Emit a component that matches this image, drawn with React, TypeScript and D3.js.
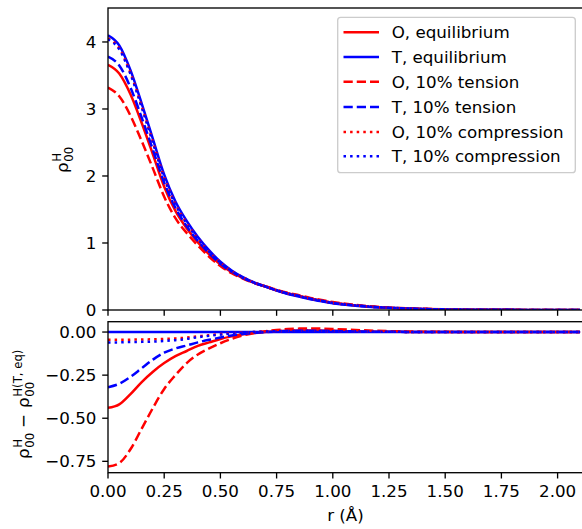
import React from "react";
import * as d3 from "d3";

const R = [0, 0.05, 0.1, 0.15, 0.2, 0.25, 0.3, 0.35, 0.4, 0.45, 0.5, 0.55, 0.6, 0.65, 0.7, 0.75, 0.8, 0.85, 0.9, 0.95, 1.0, 1.1, 1.2, 1.3, 1.4, 1.5, 1.6, 1.7, 1.8, 1.9, 2.0, 2.1];

// top panel: rho_00^H
const O_EQ = [3.66, 3.53, 3.22, 2.79, 2.32, 1.84, 1.48, 1.22, 1.01, 0.83, 0.68, 0.565, 0.477, 0.405, 0.35, 0.294, 0.247, 0.209, 0.169, 0.138, 0.107, 0.069, 0.042, 0.026, 0.015, 0.009, 0.005, 0.003, 0.002, 0.001, 0.0005, 0.0003];
const T_EQ = [4.1, 3.95, 3.58, 3.08, 2.55, 2.02, 1.62, 1.33, 1.09, 0.89, 0.72, 0.59, 0.49, 0.41, 0.35, 0.29, 0.24, 0.2, 0.16, 0.13, 0.1, 0.065, 0.04, 0.025, 0.015, 0.009, 0.005, 0.003, 0.002, 0.001, 0.0005, 0.0003];
const O_TENS = [3.32, 3.19, 2.9, 2.52, 2.11, 1.69, 1.37, 1.15, 0.96, 0.795, 0.655, 0.55, 0.47, 0.405, 0.355, 0.302, 0.257, 0.22, 0.181, 0.15, 0.118, 0.077, 0.047, 0.029, 0.017, 0.01, 0.005, 0.003, 0.002, 0.001, 0.0005, 0.0003];
const T_TENS = [3.78, 3.65, 3.32, 2.87, 2.39, 1.9, 1.525, 1.25, 1.03, 0.845, 0.688, 0.57, 0.478, 0.405, 0.35, 0.293, 0.246, 0.208, 0.168, 0.137, 0.106, 0.069, 0.042, 0.026, 0.015, 0.009, 0.005, 0.003, 0.002, 0.001, 0.0005, 0.0003];
const O_COMP = [4.055, 3.905, 3.536, 3.037, 2.508, 1.98, 1.583, 1.298, 1.065, 0.872, 0.708, 0.583, 0.487, 0.41, 0.353, 0.295, 0.247, 0.208, 0.168, 0.137, 0.106, 0.069, 0.042, 0.026, 0.015, 0.009, 0.005, 0.003, 0.002, 0.001, 0.0005, 0.0003];
const T_COMP = [4.04, 3.89, 3.522, 3.023, 2.495, 1.968, 1.573, 1.29, 1.06, 0.868, 0.705, 0.581, 0.486, 0.41, 0.353, 0.295, 0.246, 0.207, 0.167, 0.136, 0.105, 0.068, 0.042, 0.026, 0.015, 0.009, 0.005, 0.003, 0.002, 0.001, 0.0005, 0.0003];

// bottom panel: difference to T equilibrium
const D_O_EQ = [-0.44, -0.42, -0.36, -0.29, -0.23, -0.18, -0.14, -0.11, -0.08, -0.06, -0.04, -0.025, -0.013, -0.005, 0, 0.004, 0.007, 0.009, 0.009, 0.008, 0.007, 0.004, 0.002, 0.001, 0, 0, 0, 0, 0, 0, 0, 0];
const D_T_EQ = [0, 0, 0, 0, 0, 0, 0, 0, 0, 0, 0, 0, 0, 0, 0, 0, 0, 0, 0, 0, 0, 0, 0, 0, 0, 0, 0, 0, 0, 0, 0, 0];
const D_O_TENS = [-0.78, -0.76, -0.68, -0.56, -0.44, -0.33, -0.25, -0.18, -0.13, -0.095, -0.065, -0.04, -0.02, -0.005, 0.005, 0.012, 0.017, 0.02, 0.021, 0.02, 0.018, 0.012, 0.007, 0.004, 0.002, 0.001, 0, 0, 0, 0, 0, 0];
const D_T_TENS = [-0.32, -0.3, -0.26, -0.21, -0.16, -0.12, -0.095, -0.078, -0.06, -0.045, -0.032, -0.02, -0.012, -0.005, 0, 0.003, 0.006, 0.008, 0.008, 0.007, 0.006, 0.004, 0.002, 0.001, 0, 0, 0, 0, 0, 0, 0, 0];
const D_O_COMP = [-0.045, -0.045, -0.044, -0.043, -0.042, -0.04, -0.037, -0.032, -0.025, -0.018, -0.012, -0.007, -0.003, 0, 0.003, 0.005, 0.007, 0.008, 0.008, 0.007, 0.006, 0.004, 0.002, 0.001, 0, 0, 0, 0, 0, 0, 0, 0];
const D_T_COMP = [-0.06, -0.06, -0.058, -0.057, -0.055, -0.052, -0.047, -0.04, -0.03, -0.022, -0.015, -0.009, -0.004, 0, 0.003, 0.005, 0.006, 0.007, 0.007, 0.006, 0.005, 0.003, 0.002, 0.001, 0, 0, 0, 0, 0, 0, 0, 0];

const LABELS = ["O, equilibrium", "T, equilibrium", "O, 10% tension", "T, 10% tension", "O, 10% compression", "T, 10% compression"];
const X_TICKS = [0, 0.25, 0.5, 0.75, 1.0, 1.25, 1.5, 1.75, 2.0];
const Y_TICKS_TOP = [0, 1, 2, 3, 4];
const Y_TICKS_BOT = [0, -0.25, -0.5, -0.75];

const TOP_SERIES = [O_EQ, T_EQ, O_TENS, T_TENS, O_COMP, T_COMP];
const BOT_SERIES = [D_O_EQ, D_T_EQ, D_O_TENS, D_T_TENS, D_O_COMP, D_T_COMP];

const RED = "#ff0000";
const BLUE = "#0000ff";
const LW = 2.5;
const STYLES = [
  { color: RED, dash: null },
  { color: BLUE, dash: null },
  { color: RED, dash: "9.25,4" },
  { color: BLUE, dash: "9.25,4" },
  { color: RED, dash: "2.5,4.1" },
  { color: BLUE, dash: "2.5,4.1" },
];

const FONT = "DejaVu Sans, sans-serif";
const FS = 16.7;
const TICK = 5.8;
const PAD = 5.8;

const LEFT = 108;
const RIGHT = 583;
const TOP_T = 8;
const TOP_B = 310;
const BOT_T = 321.7;
const BOT_B = 472.7;

const fmt2 = (v: number) => {
  const s = Math.abs(v).toFixed(2);
  return v < 0 ? "\u2212" + s : s;
};

export default function App() {
  const x = d3.scaleLinear().domain([0, 2.113]).range([LEFT, RIGHT]);
  const yTop = d3.scaleLinear().domain([0, 4.507]).range([TOP_B, TOP_T]);
  const yBot = d3.scaleLinear().domain([-0.816, 0.06]).range([BOT_B, BOT_T]);

  const lineTop = d3
    .line<number>()
    .x((_, i) => x(R[i]))
    .y((d) => yTop(d))
    .curve(d3.curveMonotoneX);
  const lineBot = d3
    .line<number>()
    .x((_, i) => x(R[i]))
    .y((d) => yBot(d))
    .curve(d3.curveMonotoneX);

  const spine = { stroke: "#000", strokeWidth: 1.33, fill: "none" };

  const legX = 337.7;
  const legY = 17.3;
  const legW = 237.6;
  const legH = 155.4;
  const legRows = [32.3, 57, 81.7, 107, 132, 156.3];

  const sub = FS * 0.7;

  return (
    <svg width={582} height={529} style={{ display: "block", position: "absolute", left: 0, top: 0 }} fontFamily={FONT}>
      <rect x={0} y={0} width={582} height={529} fill="#fff" />
      <defs>
        <clipPath id="clipTop">
          <rect x={LEFT} y={TOP_T} width={RIGHT - LEFT} height={TOP_B - TOP_T} />
        </clipPath>
        <clipPath id="clipBot">
          <rect x={LEFT} y={BOT_T} width={RIGHT - LEFT} height={BOT_B - BOT_T} />
        </clipPath>
      </defs>

      {/* top panel curves */}
      <g clipPath="url(#clipTop)">
        {TOP_SERIES.map((s, i) => (
          <path
            key={i}
            d={lineTop(s) || ""}
            fill="none"
            stroke={STYLES[i].color}
            strokeWidth={LW}
            strokeDasharray={STYLES[i].dash || undefined}
          />
        ))}
      </g>
      {/* bottom panel curves */}
      <g clipPath="url(#clipBot)">
        {BOT_SERIES.map((s, i) => (
          <path
            key={i}
            d={lineBot(s) || ""}
            fill="none"
            stroke={STYLES[i].color}
            strokeWidth={LW}
            strokeDasharray={STYLES[i].dash || undefined}
          />
        ))}
      </g>

      {/* spines */}
      <rect x={LEFT} y={TOP_T} width={RIGHT - LEFT} height={TOP_B - TOP_T} {...spine} />
      <rect x={LEFT} y={BOT_T} width={RIGHT - LEFT} height={BOT_B - BOT_T} {...spine} />

      {/* x ticks */}
      {X_TICKS.map((t) => (
        <g key={"xt" + t}>
          <line x1={x(t)} x2={x(t)} y1={TOP_B} y2={TOP_B + TICK} stroke="#000" strokeWidth={1.33} />
          <line x1={x(t)} x2={x(t)} y1={BOT_B} y2={BOT_B + TICK} stroke="#000" strokeWidth={1.33} />
          <text x={x(t)} y={497} fontSize={FS} textAnchor="middle" fill="#000">
            {t.toFixed(2)}
          </text>
        </g>
      ))}

      {/* y ticks top */}
      {Y_TICKS_TOP.map((t) => (
        <g key={"yt" + t}>
          <line x1={LEFT - TICK} x2={LEFT} y1={yTop(t)} y2={yTop(t)} stroke="#000" strokeWidth={1.33} />
          <text x={LEFT - TICK - PAD} y={yTop(t)} dy="0.36em" fontSize={FS} textAnchor="end" fill="#000">
            {String(t)}
          </text>
        </g>
      ))}
      {/* y ticks bottom */}
      {Y_TICKS_BOT.map((t) => (
        <g key={"yb" + t}>
          <line x1={LEFT - TICK} x2={LEFT} y1={yBot(t)} y2={yBot(t)} stroke="#000" strokeWidth={1.33} />
          <text x={LEFT - TICK - PAD} y={yBot(t)} dy="0.36em" fontSize={FS} textAnchor="end" fill="#000">
            {fmt2(t)}
          </text>
        </g>
      ))}

      {/* x label */}
      <text x={345.5} y={521} fontSize={FS} textAnchor="middle" fill="#000">
        r (Å)
      </text>

      {/* top y label */}
      <g transform={`translate(68,173) rotate(-90)`} fill="#000">
        <text x={0} y={0} fontSize={FS}>ρ</text>
        <text x={11.3} y={-7.5} fontSize={sub}>H</text>
        <text x={11.3} y={5} fontSize={sub}>00</text>
      </g>

      {/* bottom y label */}
      <g transform={`translate(29,459) rotate(-90)`} fill="#000">
        <text x={0} y={0} fontSize={FS}>ρ</text>
        <text x={11.3} y={-7.5} fontSize={sub}>H</text>
        <text x={11.3} y={5} fontSize={sub}>00</text>
        <text x={31} y={0} fontSize={FS}>−</text>
        <text x={51} y={0} fontSize={FS}>ρ</text>
        <text x={62.3} y={-7.5} fontSize={sub}>H(T, eq)</text>
        <text x={62.3} y={5} fontSize={sub}>00</text>
      </g>

      {/* legend */}
      <rect x={legX} y={legY} width={legW} height={legH} rx={3} ry={3} fill="#fff" fillOpacity={0.8} stroke="#cccccc" strokeWidth={1.33} />
      {LABELS.map((lab, i) => (
        <g key={lab}>
          <line
            x1={343.5}
            x2={379}
            y1={legRows[i]}
            y2={legRows[i]}
            stroke={STYLES[i].color}
            strokeWidth={LW}
            strokeDasharray={STYLES[i].dash || undefined}
          />
          <text x={391.7} y={legRows[i]} dy="0.36em" fontSize={FS} fill="#000">
            {lab}
          </text>
        </g>
      ))}
    </svg>
  );
}
